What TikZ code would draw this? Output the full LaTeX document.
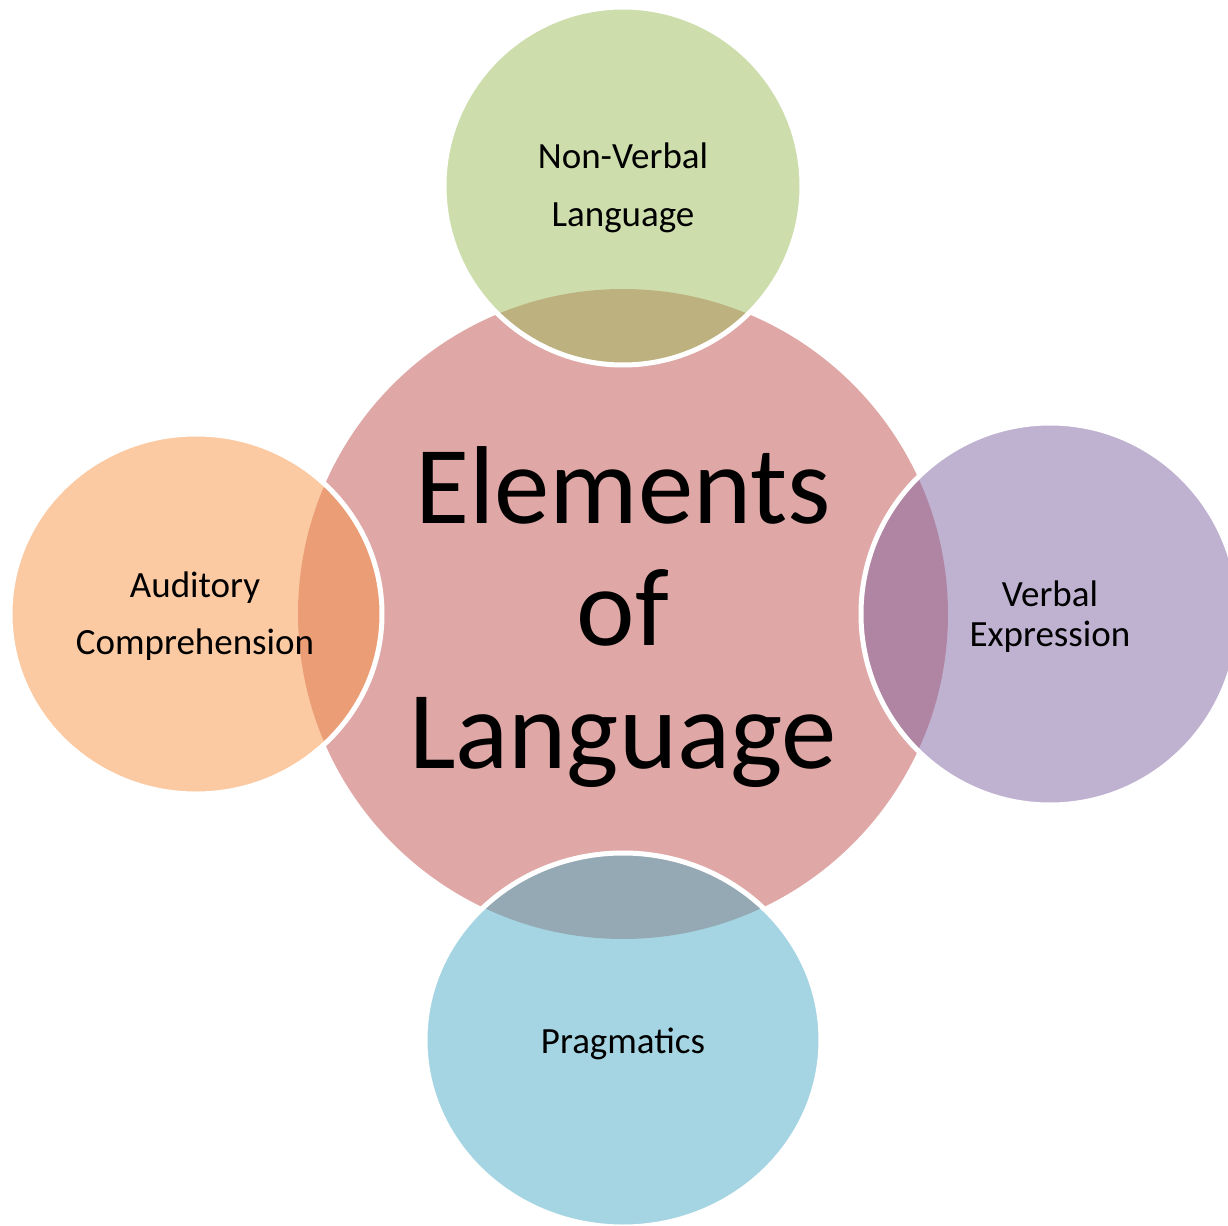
\documentclass[tikz,border=0pt]{standalone}
\usepackage{fontspec}
\setmainfont{Carlito}
\usepackage{tikz}
\definecolor{hubred}{HTML}{C0504D}
\definecolor{leafgreen}{HTML}{9BBB59}
\definecolor{leaforange}{HTML}{F79646}
\definecolor{leafpurple}{HTML}{8064A2}
\definecolor{leafblue}{HTML}{4BACC6}

\begin{document}
\begin{tikzpicture}[x=0.5pt,y=0.5pt]
\tikzstyle{every node}+=[inner sep=0pt, text=black]
\tikzstyle{bubble}=[fill opacity=0.5, draw=white, draw opacity=1, line width=2.5pt]
\tikzstyle{leaftext}=[anchor=base, align=center, font=\fontsize{18.5}{29}\selectfont]
\useasboundingbox (0,0) rectangle (1228,-1226);
\coordinate (hub) at (623,-614);
\coordinate (nonverbal) at (623,-186);
\coordinate (auditory) at (196,-614);
\coordinate (verbal) at (1050,-614);
\coordinate (pragmatics) at (623,-1040);
\fill [hubred, fill opacity=0.5] (hub) circle [radius=325];
\draw [bubble, fill=leafgreen] (nonverbal) ellipse [x radius=179, y radius=179];
\draw [bubble, fill=leaforange] (auditory) ellipse [x radius=186, y radius=180];
\draw [bubble, fill=leafpurple] (verbal) ellipse [x radius=189, y radius=191];
\draw [bubble, fill=leafblue] (pragmatics) ellipse [x radius=198, y radius=187];
\node (hubtext) [anchor=base, align=center, font=\fontsize{55.4}{61.25}\selectfont] at (623,-768) {Elements\\of\\Language};
\node (nonverbaltext) [leaftext] at (623,-226) {Non-Verbal\\Language};
\node (auditorytext) [leaftext, font=\fontsize{18.5}{28.5}\selectfont] at (195,-654) {Auditory\\Comprehension};
\node (verbaltext) [leaftext, font=\fontsize{18.5}{20}\selectfont] at (1050,-646) {Verbal\\Expression};
\node (pragmaticstext) [leaftext] at (623,-1053) {Pragmatics};
\end{tikzpicture}
\end{document}
